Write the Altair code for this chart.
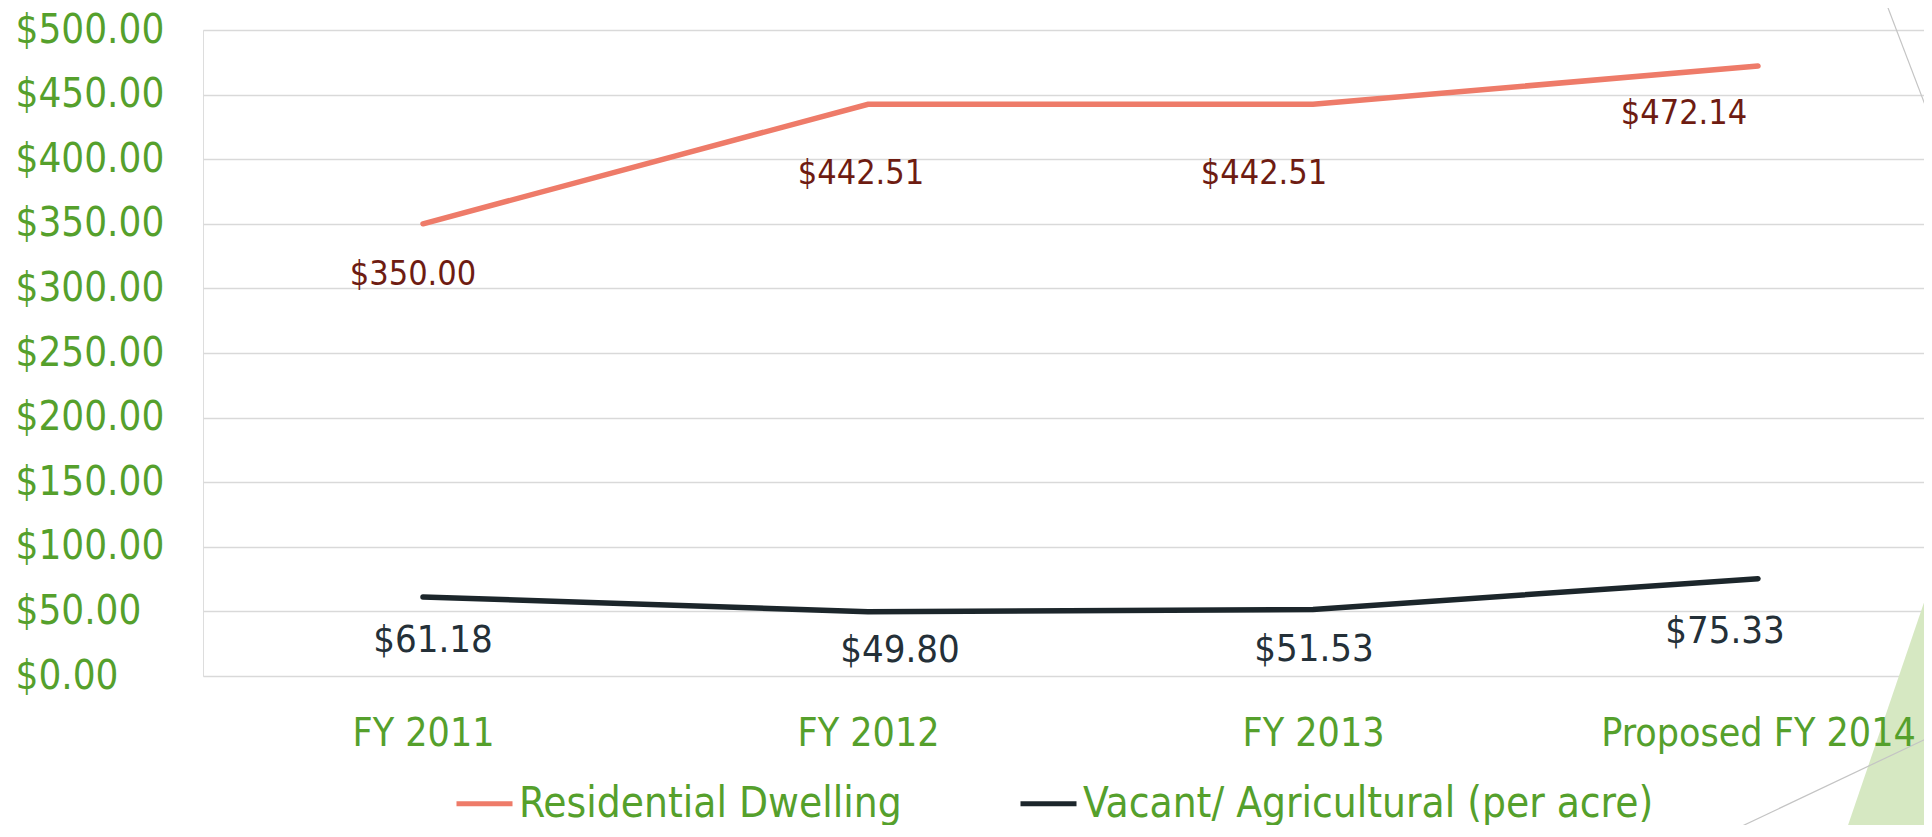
import altair as alt
import pandas as pd

# ---------------- data ----------------
years = ["FY 2011", "FY 2012", "FY 2013", "Proposed FY 2014"]
residential = [350.00, 442.51, 442.51, 472.14]
vacant = [61.18, 49.80, 51.53, 75.33]
series_names = ["Residential Dwelling", "Vacant/ Agricultural (per acre)"]
y_ticks = [0, 50, 100, 150, 200, 250, 300, 350, 400, 450, 500]

rows = []
for name, vals in zip(series_names, [residential, vacant]):
    for i, (yr, v) in enumerate(zip(years, vals)):
        rows.append({"year": yr, "value": v, "series": name, "idx": i,
                     "label": f"${v:,.2f}"})
df = pd.DataFrame(rows)

# ---------------- styles ----------------
GREEN = "#55a02c"
SALMON = "#ee7b69"
DARK = "#1c262b"
RED_LABEL = "#6e1c12"
DARK_LABEL = "#243038"
COND = "DejaVu Sans Condensed"

# per-label nudges (pixels) mimicking the hand-placed labels
NUDGE = {
    (series_names[0], 0): (-10, 51), (series_names[0], 1): (-7, 70),
    (series_names[0], 2): (-49, 70), (series_names[0], 3): (-74, 48),
    (series_names[1], 0): (10, 44), (series_names[1], 1): (32, 39),
    (series_names[1], 2): (1, 41), (series_names[1], 3): (-33, 53),
}
LABEL_STYLE = {series_names[0]: (RED_LABEL, 34), series_names[1]: (DARK_LABEL, 38)}

W, H = 1721, 646

x_enc = alt.X("year:N", sort=years,
              scale=alt.Scale(type="point", padding=0.4337, align=0.570),
              axis=alt.Axis(labelAngle=0, labelColor=GREEN, labelFont=COND,
                            labelFontSize=39, labelPadding=69, labelLimit=1000,
                            labelBaseline="alphabetic", ticks=False, zindex=1,
                            domain=False, grid=False, title=None))
y_enc = alt.Y("value:Q", scale=alt.Scale(domain=[0, 500], nice=False, zero=True),
              axis=alt.Axis(values=y_ticks, format="$,.2f", labelAlign="left",
                            labelBaseline="middle",
                            labelPadding=188, ticks=False, domain=False,
                            grid=True, gridColor="#d9d9d9", gridWidth=1.5,
                            labelColor=GREEN, labelFont=COND, labelFontSize=40,
                            title=None))

lines = alt.Chart(df).mark_line(strokeWidth=5.5, strokeCap="round").encode(
    x=x_enc, y=y_enc,
    color=alt.Color("series:N", sort=series_names,
                    scale=alt.Scale(domain=series_names, range=[SALMON, DARK]),
                    legend=alt.Legend(orient="none", legendX=251, legendY=743,
                                      direction="horizontal", columns=2,
                                      title=None, symbolType="stroke",
                                      symbolSize=3136, symbolStrokeWidth=5,
                                      labelOffset=4, columnPadding=108,
                                      padding=0, labelColor=GREEN,
                                      labelFont=COND, labelFontSize=42,
                                      labelLimit=1000)),
    order="idx:Q",
)

texts = []
for (sname, idx), (dx, dy) in NUDGE.items():
    col, fs = LABEL_STYLE[sname]
    t = alt.Chart(df).transform_filter(
        (alt.datum.series == sname) & (alt.datum.idx == idx)
    ).mark_text(dx=dx, dy=dy, align="center", baseline="middle",
                font=COND, fontSize=fs, color=col).encode(
        x=alt.X("year:N", sort=years), y="value:Q", text="label:N")
    texts.append(t)

# slide decorations (theme graphics on the right edge)
one = alt.Data(values=[{}])
deco_line1 = alt.Chart(one).mark_rule(color="#c4c4c4", strokeWidth=1.2).encode(
    x=alt.value(1682), y=alt.value(-30), x2=alt.value(1729), y2=alt.value(93))
deco_line2 = alt.Chart(one).mark_rule(color="#c4c4c4", strokeWidth=1.2).encode(
    x=alt.value(1516), y=alt.value(807), x2=alt.value(1729), y2=alt.value(706))
deco_tri = alt.Chart(one).mark_point(
    shape="M0.682,-1 L0.682,1 L0,1 Z", filled=True, fill="#d6e8c2",
    stroke=None, opacity=1, size=66564).encode(
    x=alt.value(1641), y=alt.value(678))

chart = alt.layer(deco_tri, deco_line1, deco_line2, lines, *texts).properties(
    width=W, height=H,
    padding={"left": 195, "top": 22, "right": 0, "bottom": 149},
    autosize=alt.AutoSizeParams(type="none"),
).configure_view(stroke=None).configure(background="white")

chart.save("out.html", embed_options={"renderer": "svg", "actions": False})
